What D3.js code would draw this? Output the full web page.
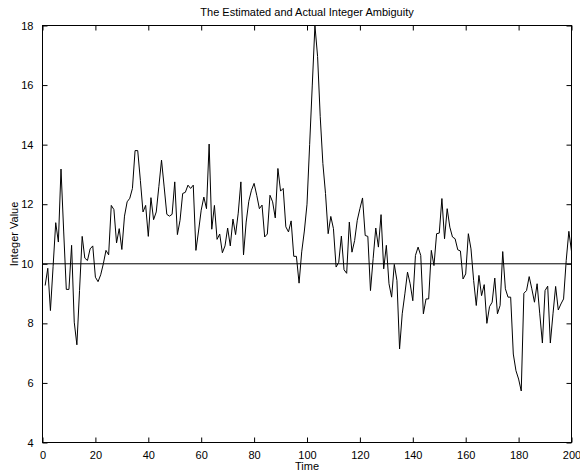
<!DOCTYPE html>
<html>
<head>
<meta charset="utf-8">
<script src="https://cdn.jsdelivr.net/npm/d3@7"></script>
<style>
  html, body { margin: 0; padding: 0; background: #fff; }
  svg { display: block; }
  text { font-family: "Liberation Sans", Arial, Helvetica, sans-serif; fill: #000; }
</style>
</head>
<body>
<svg id="chart" width="580" height="475"></svg>
<script>
// ---- data ----
const titleText = "The Estimated and Actual Integer Ambiguity";
const xLabel = "Time";
const yLabel = "Integer Value";
const xTicks = [0, 20, 40, 60, 80, 100, 120, 140, 160, 180, 200];
const yTicks = [4, 6, 8, 10, 12, 14, 16, 18];
const actualValue = 10;
const xDomain = [0, 200];
const yDomain = [4, 18];
// estimated ambiguity, t = 1..200
const estimated = [
  9.27, 9.85, 8.43, 9.9, 11.38, 10.73, 13.18, 11.1, 9.14, 9.14,
  10.62, 8.04, 7.28, 9.1, 10.92, 10.19, 10.11, 10.5, 10.6, 9.55,
  9.4, 9.63, 10.0, 10.45, 10.3, 11.96, 11.82, 10.7, 11.18, 10.48,
  11.6, 12.08, 12.2, 12.53, 13.8, 13.8, 12.8, 11.74, 11.96, 10.92,
  12.22, 11.48, 11.74, 12.6, 13.48, 12.58, 11.66, 11.6, 11.66, 12.75,
  10.98, 11.46, 12.36, 12.4, 12.64, 12.53, 12.64, 10.45, 11.1, 11.8,
  12.24, 11.85, 14.02, 11.16, 11.96, 10.82, 11.0, 10.37, 10.6, 11.2,
  10.6, 11.5, 10.98, 11.7, 12.75, 10.3, 11.4, 12.1, 12.47, 12.7,
  12.3, 11.85, 11.97, 10.9, 11.0, 12.3, 12.08, 11.54, 13.2, 12.44,
  12.53, 11.24, 11.07, 11.44, 10.25, 10.25, 9.35, 10.4, 11.1, 12.0,
  14.0, 16.0, 18.0, 16.96, 14.94, 13.37, 12.36, 11.01, 11.59, 11.18,
  9.89, 10.05, 10.93, 9.8, 9.68, 11.4, 10.39, 10.78, 11.46, 11.85,
  12.21, 10.95, 10.92, 9.1, 10.17, 11.2, 10.56, 11.65, 9.83, 10.62,
  9.33, 8.88, 9.98, 9.44, 7.14, 8.32, 8.99, 9.72, 9.33, 8.76,
  10.28, 10.56, 10.28, 8.32, 8.82, 8.82, 10.45, 9.94, 11.01, 11.03,
  12.19, 10.84, 11.85, 11.23, 10.9, 10.84, 10.47, 10.43, 9.49, 9.66,
  11.01, 10.5, 9.44, 8.6, 9.61, 8.93, 9.3, 8.0, 8.56, 8.71,
  9.52, 8.32, 8.6, 10.41, 9.16, 8.88, 8.88, 6.97, 6.41, 6.13,
  5.73, 9.01, 9.1, 9.57, 9.16, 8.71, 9.33, 8.32, 7.34, 9.1,
  9.25, 7.34, 8.32, 9.24, 8.45, 8.65, 8.82, 10.11, 11.09, 10.42
];
const timeSteps = estimated.map((_, i) => i + 1);

// ---- layout ----
const svg = d3.select("#chart");
const L = 42.5, R = 571.5, T = 25.5, B = 442.5;
const x = d3.scaleLinear().domain(xDomain).range([L, R]);
const y = d3.scaleLinear().domain(yDomain).range([B, T]);
const tickLen = 5;

// box
svg.append("rect")
  .attr("x", L).attr("y", T).attr("width", R - L).attr("height", B - T)
  .attr("fill", "none").attr("stroke", "#000").attr("stroke-width", 1);

// axes with inward ticks
const fs = 11;
const bottomAxis = d3.axisBottom(x).tickValues(xTicks).tickSizeInner(-tickLen).tickSizeOuter(0).tickPadding(4 + tickLen);
const gB = svg.append("g").attr("transform", `translate(0,${B})`).call(bottomAxis);
const topAxis = d3.axisTop(x).tickValues(xTicks).tickSizeInner(-tickLen).tickSizeOuter(0).tickFormat("");
const gT = svg.append("g").attr("transform", `translate(0,${T})`).call(topAxis);
const leftAxis = d3.axisLeft(y).tickValues(yTicks).tickSizeInner(-tickLen).tickSizeOuter(0).tickPadding(4 + tickLen);
const gL = svg.append("g").attr("transform", `translate(${L},0)`).call(leftAxis);
const rightAxis = d3.axisRight(y).tickValues(yTicks).tickSizeInner(-tickLen).tickSizeOuter(0).tickFormat("");
const gR = svg.append("g").attr("transform", `translate(${R},0)`).call(rightAxis);
[gB, gT, gL, gR].forEach(g => {
  g.select(".domain").remove();
  g.selectAll("line").attr("stroke", "#000");
  g.selectAll("text").attr("font-size", fs).attr("font-family", "Liberation Sans, Arial, sans-serif").attr("fill", "#000");
});
gL.selectAll("text").attr("dx", "0");

// actual value line
svg.append("line")
  .attr("x1", x(xDomain[0])).attr("x2", x(xDomain[1]))
  .attr("y1", y(actualValue)).attr("y2", y(actualValue))
  .attr("stroke", "#000").attr("stroke-width", 1);

// estimated line
const line = d3.line().x((d, i) => x(timeSteps[i])).y(d => y(d));
svg.append("path")
  .datum(estimated)
  .attr("d", line)
  .attr("fill", "none")
  .attr("stroke", "#000")
  .attr("stroke-width", 1)
  .attr("stroke-linejoin", "miter");

// titles
svg.append("text")
  .attr("x", (L + R) / 2).attr("y", 16)
  .attr("text-anchor", "middle").attr("font-size", fs)
  .text(titleText);
svg.append("text")
  .attr("x", (L + R) / 2).attr("y", 470)
  .attr("text-anchor", "middle").attr("font-size", fs)
  .text(xLabel);
svg.append("text")
  .attr("transform", `translate(18,${(T + B) / 2}) rotate(-90)`)
  .attr("text-anchor", "middle").attr("font-size", fs)
  .text(yLabel);
</script>
</body>
</html>
